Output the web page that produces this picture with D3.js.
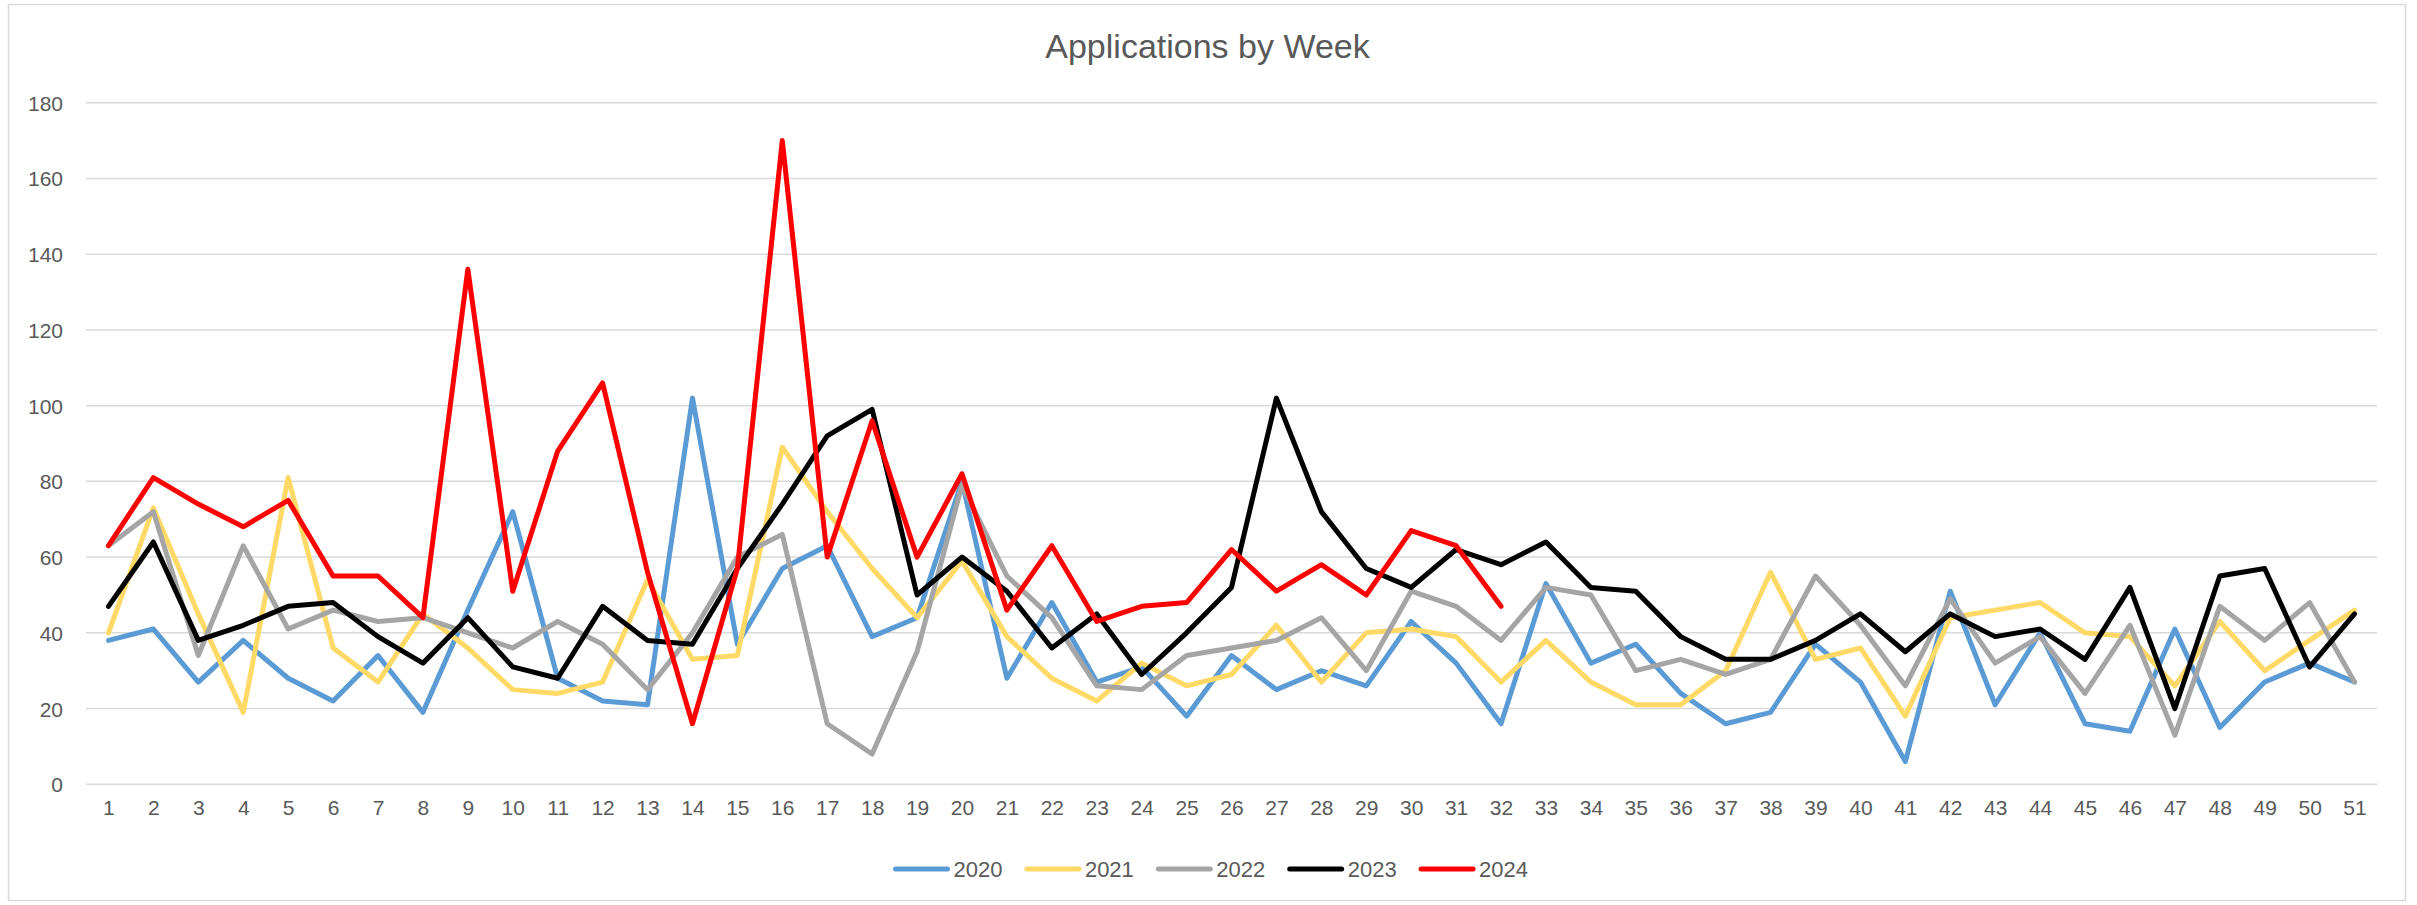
<!DOCTYPE html>
<html>
<head>
<meta charset="utf-8">
<script src="https://cdn.jsdelivr.net/npm/d3@7"></script>
<style>
  html, body { margin: 0; padding: 0; background: #fff; }
  svg { display: block; }
  text { font-family: "Liberation Sans", Arial, sans-serif; fill: #595959; }
</style>
</head>
<body>
<svg id="chart" width="2417" height="905"></svg>
<script>
const weeks = d3.range(1, 52).map(String);
const yTicks = [0, 20, 40, 60, 80, 100, 120, 140, 160, 180];

const s2020 = [38,41,27,38,28,22,34,19,46,72,28,22,21,102,37,57,63,39,44,80,28,48,27,31,18,34,25,30,26,43,32,16,53,32,37,24,16,19,37,27,6,51,21,40,16,14,41,15,27,32,27];
const s2021 = [40,73,45,19,81,36,27,45,36,25,24,27,54,33,34,89,72,57,44,59,39,28,22,32,26,29,42,27,40,41,39,27,38,27,21,21,30,56,33,36,18,44,46,48,40,39,26,43,30,38,46];
const s2022 = [63,72,34,63,41,46,43,44,40,36,43,37,25,40,60,66,16,8,35,79,55,44,26,25,34,36,38,44,30,51,47,38,52,50,30,33,29,33,55,42,26,49,32,39,24,42,13,47,38,48,27];
const s2023 = [47,64,38,42,47,48,39,32,44,31,28,47,38,37,57,74,92,99,50,60,51,36,45,29,40,52,102,72,57,52,62,58,64,52,51,39,33,33,38,45,35,45,39,41,33,52,20,55,57,31,45];
const s2024 = [63,81,74,68,75,55,55,44,136,51,88,106,56,16,57,170,60,96,60,82,46,63,43,47,48,62,51,58,50,67,63,47];

const seriesNames = ["2020", "2021", "2022", "2023", "2024"];
const seriesValues = [s2020, s2021, s2022, s2023, s2024];
const seriesColors = ["#5B9BD5", "#FFD966", "#A5A5A5", "#000000", "#FF0000"];

const svg = d3.select("#chart");

// chart border
svg.append("rect")
  .attr("x", 8.5).attr("y", 4.5).attr("width", 2397).attr("height", 896)
  .attr("fill", "#fff").attr("stroke", "#d9d9d9").attr("stroke-width", 1.5);

const plot = { left: 86, right: 2377, top: 102.7, bottom: 784.3 };

const x = d3.scalePoint().domain(weeks).range([plot.left, plot.right]).padding(0.5);
const y = d3.scaleLinear().domain([0, 180]).range([plot.bottom, plot.top]);

// gridlines
svg.append("g").selectAll("line").data(yTicks).join("line")
  .attr("x1", plot.left).attr("x2", plot.right)
  .attr("y1", d => y(d)).attr("y2", d => y(d))
  .attr("stroke", "#d9d9d9").attr("stroke-width", 1.5);

// y axis labels
const yAxis = d3.axisLeft(y).tickValues(yTicks).tickSize(0).tickPadding(0);
const gy = svg.append("g").attr("transform", "translate(63,0)").call(yAxis);
gy.select(".domain").remove();
gy.selectAll("text").attr("font-size", 21).attr("dy", "0.36em")
  .style("font-family", "'Liberation Sans', Arial, sans-serif").attr("fill", "#595959");

// x axis labels
const xAxis = d3.axisBottom(x).tickSize(0).tickPadding(0);
const gx = svg.append("g").attr("transform", "translate(0,800)").call(xAxis);
gx.select(".domain").remove();
gx.selectAll("text").attr("font-size", 21).attr("dy", "0.71em")
  .style("font-family", "'Liberation Sans', Arial, sans-serif").attr("fill", "#595959");

// lines
const line = d3.line().x((d, i) => x(weeks[i])).y(d => y(d));
seriesValues.forEach((vals, k) => {
  svg.append("path")
    .datum(vals)
    .attr("d", line)
    .attr("fill", "none")
    .attr("stroke", seriesColors[k])
    .attr("stroke-width", 5)
    .attr("stroke-linejoin", "round")
    .attr("stroke-linecap", "round");
});

// title
svg.append("text")
  .attr("x", 1207.5).attr("y", 58)
  .attr("text-anchor", "middle")
  .attr("font-size", 34)
  .text("Applications by Week");

// legend
const legend = svg.append("g").attr("transform", "translate(893.5,869)");
seriesNames.forEach((name, k) => {
  const g = legend.append("g").attr("transform", `translate(${k * 131.4},0)`);
  g.append("line").attr("x1", 2).attr("x2", 54).attr("y1", 0).attr("y2", 0)
    .attr("stroke", seriesColors[k]).attr("stroke-width", 5).attr("stroke-linecap", "round");
  g.append("text").attr("x", 60).attr("y", 0).attr("dy", "0.36em")
    .attr("font-size", 22).text(name);
});
</script>
</body>
</html>
